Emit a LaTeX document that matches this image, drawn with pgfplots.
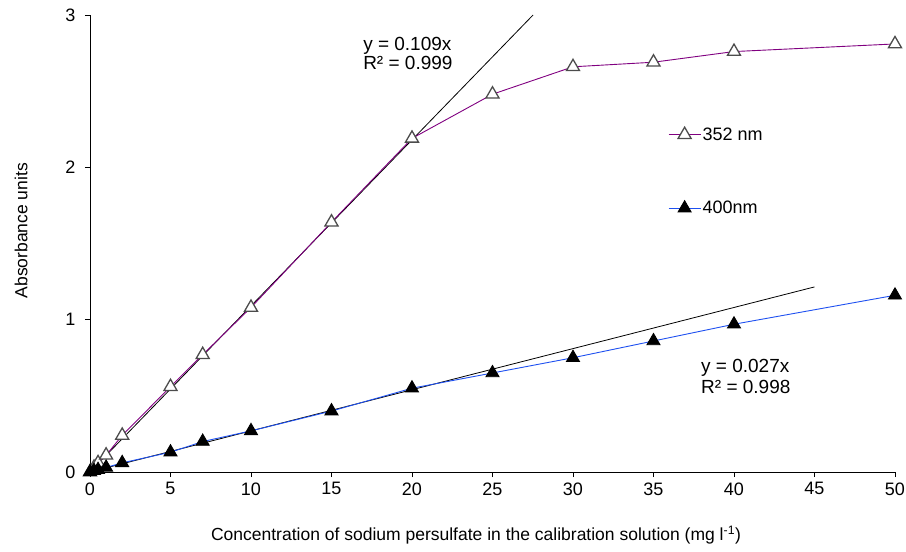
\documentclass[border=0pt]{standalone}
\usepackage{pgfplots}
\pgfplotsset{compat=1.18}
\usepackage{fontspec}
\setmainfont{Liberation Sans}
\definecolor{purp}{RGB}{128,0,128}
\definecolor{blu}{RGB}{30,80,240}
\begin{document}
\begin{tikzpicture}
\begin{axis}[
  at={(0,0)}, anchor=origin,
  scale only axis, width=805pt, height=457pt,
  xmin=0, xmax=50, ymin=0, ymax=3,
  axis x line*=bottom, axis y line*=left,
  axis line style={black, line width=0.9pt, -},
  xtick={0,5,...,50}, ytick={0,1,2,3},
  tick align=outside, tick style={black, line width=0.9pt},
  major tick length=5pt,
  /pgf/number format/assume math mode=true,
  ticklabel style={font=\fontsize{18}{21}\selectfont},
  xticklabel style={yshift=-2pt},
  yticklabel style={xshift=-6pt},
  xlabel={Concentration of sodium persulfate in the calibration solution (mg l\textsuperscript{-1})},
  ylabel={Absorbance units},
  label style={font=\fontsize{17.5}{20}\selectfont},
  xlabel style={at={(axis description cs:0.4795,-0.138)}, anchor=center},
  ylabel style={at={(axis description cs:-0.0857,0.528)}, anchor=center},
  clip=false,
  legend style={draw=none, fill=none, at={(axis cs:35.9,2.265)}, anchor=north west,
    row sep=59pt, inner sep=0pt, font=\fontsize{18}{21}\selectfont,
    nodes={inner xsep=1.5pt, inner ysep=0pt}},
  legend cell align=left,
  legend image code/.code={\draw[mark repeat=2,mark phase=2] plot coordinates {(0pt,0pt)(16pt,0pt)(32pt,0pt)};},
]
% trend lines
\addplot[black, line width=0.8pt, forget plot] coordinates {(0,0) (27.52,3)};
\addplot[black, line width=0.8pt, forget plot] coordinates {(0,0) (45,1.215)};
% 352 nm
\addplot[purp, line width=0.9pt, mark=triangle*, mark size=7.5pt,
  mark options={fill=white, draw=gray!60!black, line width=1.3pt}] coordinates {
 (0,0) (0.25,0.03) (0.5,0.06) (1,0.11) (2,0.24) (5,0.56) (7,0.77) (10,1.08)
 (15,1.64) (20,2.19) (25,2.48) (30,2.66) (35,2.69) (40,2.76) (50,2.81)};
\addlegendentry{352 nm}
% 400 nm
\addplot[blu, line width=0.9pt, mark=triangle*, mark size=7.5pt,
  mark options={fill=black, draw=black}] coordinates {
 (0,0) (0.25,0.008) (0.5,0.015) (1,0.03) (2,0.06) (5,0.13) (7,0.20) (10,0.27)
 (15,0.40) (20,0.55) (25,0.65) (30,0.75) (35,0.86) (40,0.97) (50,1.16)};
\addlegendentry{400nm}
\node[anchor=base west, inner sep=0pt, font=\fontsize{19}{20}\selectfont]
  at (axis cs:16.96,2.770) {y = 0.109x};
\node[anchor=base west, inner sep=0pt, font=\fontsize{19}{20}\selectfont]
  at (axis cs:16.96,2.639) {R² = 0.999};
\node[anchor=base west, inner sep=0pt, font=\fontsize{19}{20}\selectfont]
  at (axis cs:37.95,0.652) {y = 0.027x};
\node[anchor=base west, inner sep=0pt, font=\fontsize{19}{20}\selectfont]
  at (axis cs:37.95,0.515) {R² = 0.998};
\end{axis}
\pgfresetboundingbox
\path (-90pt,-80pt) rectangle (816pt,472pt);
\end{tikzpicture}
\end{document}
